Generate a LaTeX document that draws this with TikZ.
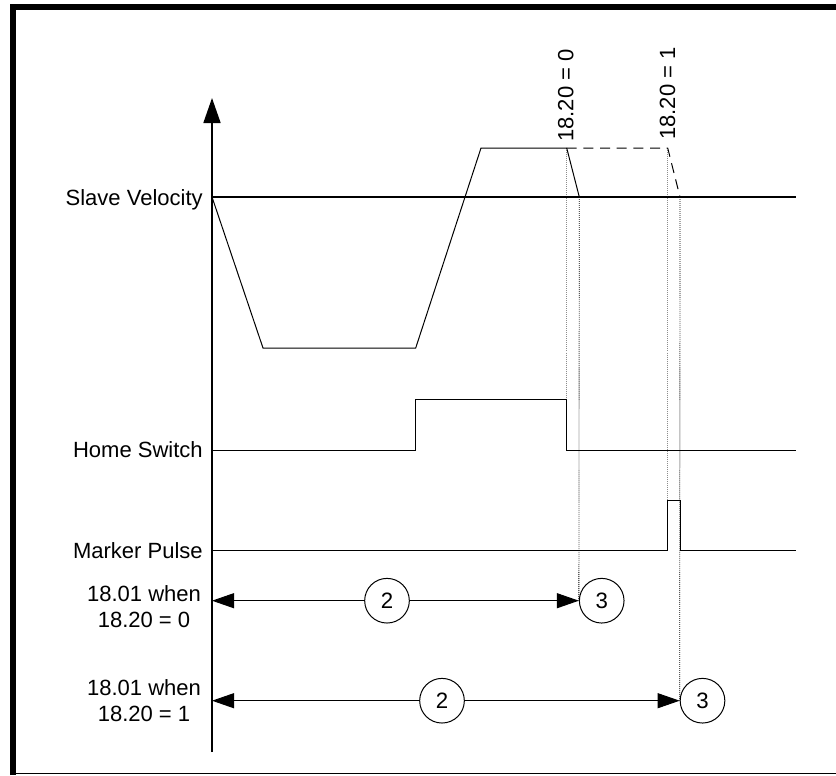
\documentclass[tikz,border=0pt]{standalone}
\usepackage{fontspec}
\setmainfont{Liberation Sans}
\usepackage{tikz}
\usetikzlibrary{
    arrows.meta,
    positioning,
    calc
}
\definecolor{guidegray}{gray}{0.55}
\tikzstyle{lbl} = [
    inner sep=0pt,
    font=\fontsize{18.8}{22.2}\selectfont
]
\tikzstyle{phase} = [
    circle,
    draw=black,
    line width=0.3mm,
    minimum size=13.4mm,
    inner sep=0pt,
    font=\fontsize{19}{22}\selectfont
]
\tikzstyle{signal} = [
    draw=black,
    line width=0.3mm
]
\tikzstyle{refline} = [
    draw=black,
    line width=0.6mm
]
\tikzstyle{guide} = [
    densely dotted,
    line width=0.25mm
]
\tikzstyle{span} = [
    -{Triangle[length=6.6mm,width=4.5mm]},
    line width=0.3mm,
    draw=black
]
\tikzstyle{axis} = [
    -{Triangle[length=7.5mm,width=5.1mm]},
    line width=0.5mm,
    draw=black
]
\begin{document}
\begin{tikzpicture}[x=0.3mm, y=-0.3mm]
    \useasboundingbox (0,0) rectangle (836,775);
    \draw[line width=1.8mm] (13,775) -- (13,7) -- (836,7);
    \draw[line width=0.45mm] (16,773.5) -- (836,773.5);

    \coordinate (o) at (212,197);
    \coordinate (axbot) at (212,752);
    \coordinate (axtop) at (212,98);
    \coordinate (vend) at (796,197);
    \coordinate (low1) at (263,348);
    \coordinate (low2) at (415.7,348);
    \coordinate (top1) at (481,148);
    \coordinate (top0) at (566.7,148);
    \coordinate (stop0) at (579.3,197);
    \coordinate (topA) at (667.7,148);
    \coordinate (stopA) at (680,197);
    \coordinate (ya) at (212,600.7);
    \coordinate (yb) at (212,700.7);

    \node[lbl, anchor=base east] (slave) at (203,205) {Slave Velocity};
    \node[lbl, anchor=base east] (home) at (203,457.5) {Home Switch};
    \node[lbl, anchor=base east] (marker) at (203,558) {Marker Pulse};
    \node[lbl, align=center] (when0) at (144,607) {18.01 when\\18.20 = 0};
    \node[lbl, align=center] (when1) at (144,701) {18.01 when\\18.20 = 1};
    \node[lbl, rotate=90, anchor=base west] (sel0) at (573.3,142) {18.20 = 0};
    \node[lbl, rotate=90, anchor=base west] (sel1) at (675,140) {18.20 = 1};

    \node[phase] (c2a) at (387,600.7) {2};
    \node[phase] (c3a) at (601.7,600.7) {3};
    \node[phase] (c2b) at (442,700.7) {2};
    \node[phase] (c3b) at (702.5,700.7) {3};

    \draw[guide, draw=guidegray] (top0) -- (566.7,450);
    \draw[guide, draw=guidegray] (topA) -- (667.7,500);
    \draw[guide, draw=black] (stop0) -- (c3a.west);
    \draw[guide, draw=black] (stopA) -- (c3b.west);

    \draw[axis] (axbot) -- (axtop);
    \draw[refline] (o) -- (vend);
    \draw[signal] (o) -- (low1) -- (low2) -- (top1) -- (top0) -- (stop0);
    \draw[signal, dashed, dash pattern=on 3mm off 2mm] (top0) -- (topA) -- (stopA);
    \draw[signal] (212,450) -- (415.7,450) -- (415.7,399.3) -- (566.7,399.3)
        -- (566.7,450) -- (796,450);
    \draw[signal] (212,550.7) -- (667.7,550.7) -- (667.7,500) -- (680,500)
        -- (680,550.7) -- (796,550.7);

    \draw[span] (c2a.west) -- (ya);
    \draw[span] (c2a.east) -- (c3a.west);
    \draw[span] (c2b.west) -- (yb);
    \draw[span] (c2b.east) -- (c3b.west);
\end{tikzpicture}
\end{document}
